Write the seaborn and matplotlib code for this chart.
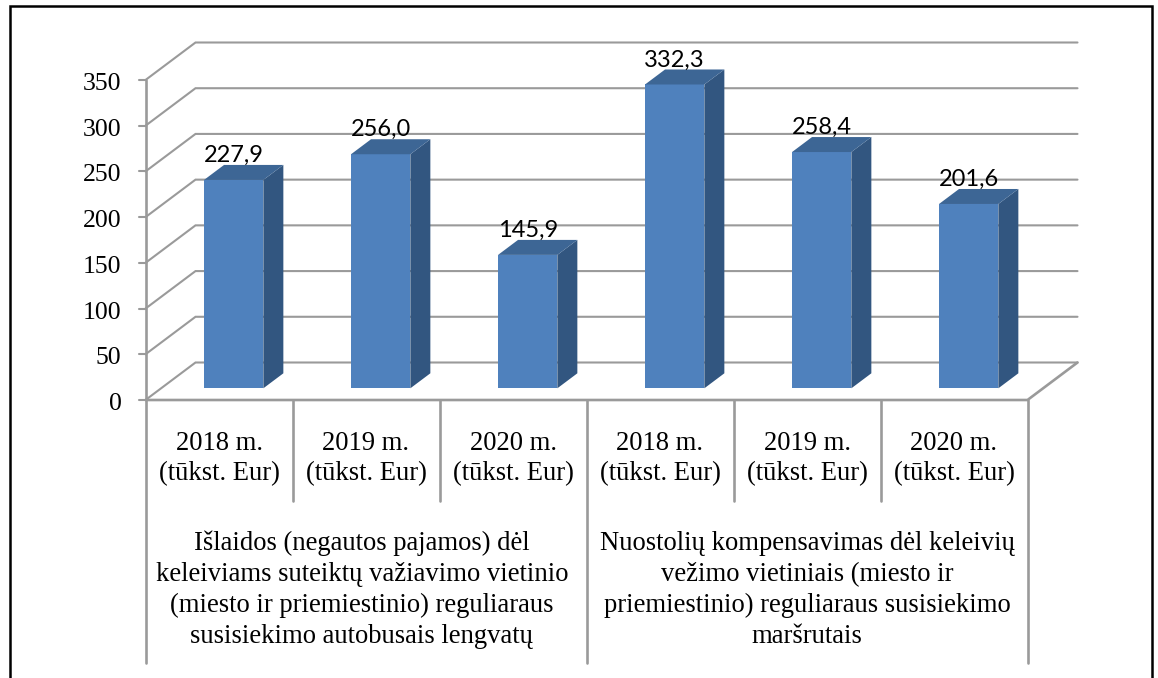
import numpy as np
import pandas as pd
import seaborn as sns
import matplotlib.pyplot as plt
from matplotlib.lines import Line2D
from matplotlib.patches import Polygon

# Chart data
year_labels = ["2018 m.", "2019 m.", "2020 m.", "2018 m.", "2019 m.", "2020 m."]
unit_label = "(tūkst. Eur)"
group_labels = [
    "Išlaidos (negautos pajamos) dėl\nkeleiviams suteiktų važiavimo vietinio\n"
    "(miesto ir priemiestinio) reguliaraus\nsusisiekimo autobusais lengvatų",
    "Nuostolių kompensavimas dėl keleivių\nvežimo vietiniais (miesto ir\n"
    "priemiestinio) reguliaraus susisiekimo\nmaršrutais",
]
bar_values = [227.9, 256.0, 145.9, 332.3, 258.4, 201.6]
y_ticks = [0, 50, 100, 150, 200, 250, 300, 350]

# Layout in image pixels
W, H = 1158, 678
FRONT_LEFT, SLOT = 145.5, 147.0
FRONT_ZERO = 400.0
PX_PER_UNIT = 320.0 / 350.0
WALL_DX, WALL_DY = 50.0, 37.5
BAR_ZERO = 388.3
BAR_CENTER0 = 233.7
BAR_WIDTH = 59.3 / SLOT
DEPTH_DX, DEPTH_DY = 20.0, 15.0

GRID = "#9a9a9a"
FRONT = "#4f81bd"
SIDE = "#325680"
TOP = "#3d6695"
SERIF = "Liberation Serif"

sns.set_theme(style="white")
plt.rcParams["font.family"] = [SERIF, "DejaVu Sans"]

fig = plt.figure(figsize=(W / 100, H / 100), dpi=100, facecolor="white")

# Pixel-space layer for walls, dividers, and text
bg = fig.add_axes([0, 0, 1, 1], zorder=1)
bg.set_xlim(0, W)
bg.set_ylim(H, 0)
bg.axis("off")

n = len(bar_values)
front_right = FRONT_LEFT + n * SLOT
for t in y_ticks:
    y = FRONT_ZERO - t * PX_PER_UNIT
    bg.plot(
        [FRONT_LEFT, FRONT_LEFT + WALL_DX, front_right + WALL_DX],
        [y, y - WALL_DY, y - WALL_DY],
        color=GRID, lw=1.5, solid_joinstyle="miter",
    )
    bg.plot([FRONT_LEFT - 7, FRONT_LEFT], [y, y], color=GRID, lw=1.5)
    bg.text(FRONT_LEFT - 24, y + 1.5, str(t), ha="right", va="center_baseline", fontsize=18.5, color="black")

# Floor and front axis
bg.plot([FRONT_LEFT, front_right, front_right + WALL_DX],
        [FRONT_ZERO, FRONT_ZERO, FRONT_ZERO - WALL_DY], color=GRID, lw=1.9)
bg.plot([FRONT_LEFT, FRONT_LEFT], [FRONT_ZERO - 350 * PX_PER_UNIT, 663], color=GRID, lw=1.9)

# Category dividers
for i in range(1, n + 1):
    bottom = 663 if i % 3 == 0 else 501
    bg.plot([FRONT_LEFT + i * SLOT] * 2, [FRONT_ZERO, bottom], color=GRID, lw=1.9)

for i, label in enumerate(year_labels):
    cx = FRONT_LEFT + (i + 0.5) * SLOT
    bg.text(cx, 443, label, ha="center", va="center", fontsize=19.2, color="black")
    bg.text(cx, 474, unit_label, ha="center", va="center", fontsize=19.2, color="black")

for g, label in enumerate(group_labels):
    cx = FRONT_LEFT + (g * 3 + 1.5) * SLOT
    if g == 0:
        cx -= 4  # left block sits a little off its span
    bg.text(cx, 590, label, ha="center", va="center", fontsize=19.2, color="black", linespacing=1.32)

# Outer frame (open at the bottom)
bg.add_line(Line2D([10, 10, 1152, 1152], [H, 6, 6, H], color="black", lw=1.8, solid_joinstyle="miter"))

# Bars on their own axes; y runs 0 to 350 in the same pixel scale as the walls
left = BAR_CENTER0 - 0.5 * SLOT
ax = fig.add_axes(
    [left / W, (H - BAR_ZERO) / H, n * SLOT / W, 350 * PX_PER_UNIT / H],
    zorder=2,
)
ax.patch.set_alpha(0)
df = pd.DataFrame({"pos": np.arange(n), "value": bar_values})
sns.barplot(data=df, x="pos", y="value", color=FRONT, saturation=1, width=BAR_WIDTH,
            linewidth=0, edgecolor="none", ax=ax, zorder=3)
ax.set_xlim(-0.5, n - 0.5)
ax.set_ylim(0, 350)
ax.axis("off")

dx = DEPTH_DX / SLOT
dy = DEPTH_DY / PX_PER_UNIT
label_gap = 18.0 / PX_PER_UNIT
for bar, value in zip(ax.patches, bar_values):
    x0, x1 = bar.get_x(), bar.get_x() + bar.get_width()
    h = bar.get_height()
    ax.add_patch(Polygon([(x1, 0), (x1 + dx, dy), (x1 + dx, h + dy), (x1, h)],
                         facecolor=SIDE, edgecolor="none", clip_on=False, zorder=3))
    ax.add_patch(Polygon([(x0, h), (x0 + dx, h + dy), (x1 + dx, h + dy), (x1, h)],
                         facecolor=TOP, edgecolor="none", clip_on=False, zorder=3))
    ax.text((x0 + x1) / 2, h + label_gap, f"{value:.1f}".replace(".", ","),
            ha="center", va="baseline", fontsize=17, color="black",
            family=["Lato", "DejaVu Sans"], zorder=5, clip_on=False)

fig.savefig("out.png", dpi=100, facecolor="white")
